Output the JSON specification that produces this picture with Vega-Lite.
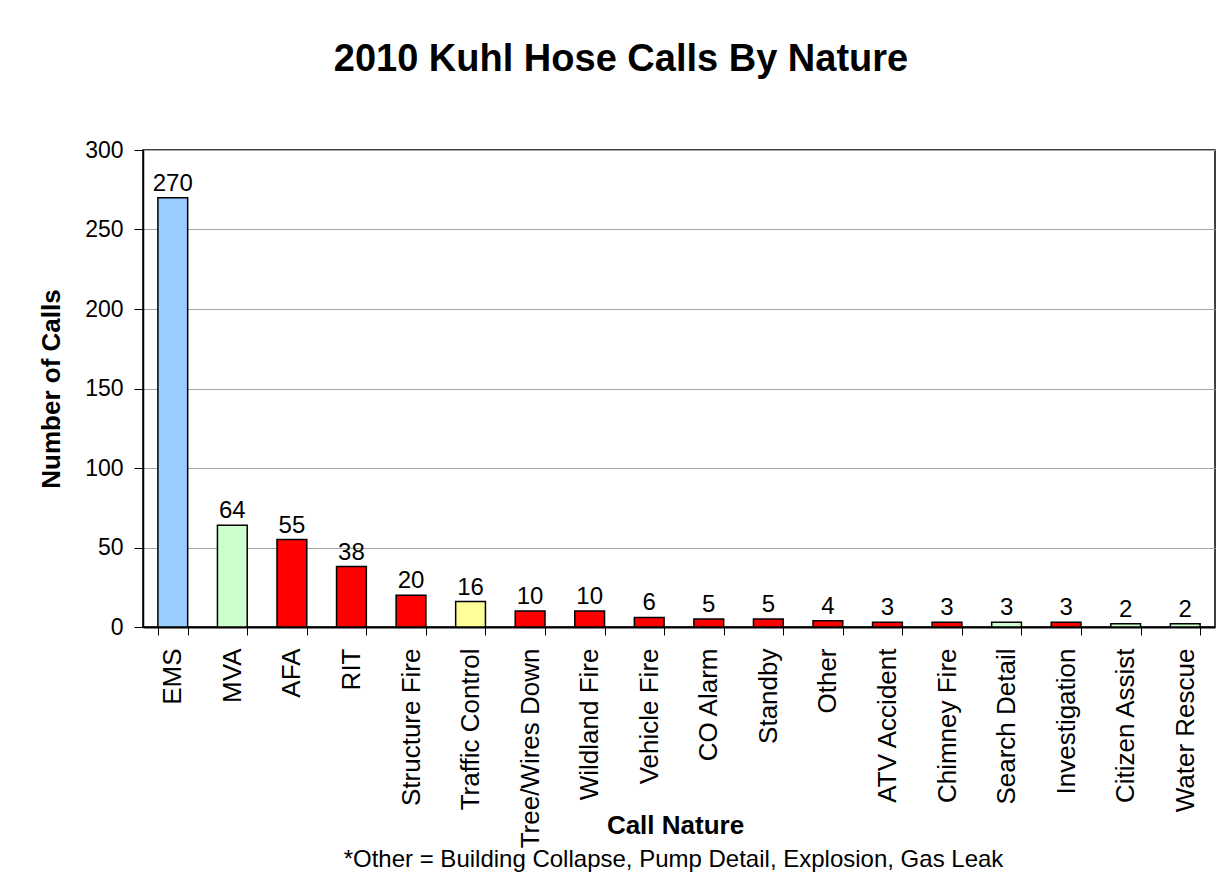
{
  "$schema": "https://vega.github.io/schema/vega-lite/v6.json",
  "width": 1072,
  "height": 477,
  "autosize": {"type": "none"},
  "padding": {"left": 143, "top": 150, "right": 8, "bottom": 261},
  "background": "white",
  "title": {
    "text": "2010 Kuhl Hose Calls By Nature",
    "anchor": "middle",
    "frame": "group",
    "dx": -58,
    "offset": 30,
    "baseline": "alphabetic",
    "font": "Liberation Sans",
    "fontSize": 38,
    "fontWeight": "bold",
    "color": "#000000"
  },
  "config": {
    "view": {"stroke": "#000000", "strokeWidth": 1.5},
    "font": "Liberation Sans"
  },
  "data": {
    "values": [
      {"Nature": "EMS", "Calls": 270, "Type": "EMS"},
      {"Nature": "MVA", "Calls": 64, "Type": "Rescue"},
      {"Nature": "AFA", "Calls": 55, "Type": "Fire"},
      {"Nature": "RIT", "Calls": 38, "Type": "Fire"},
      {"Nature": "Structure Fire", "Calls": 20, "Type": "Fire"},
      {"Nature": "Traffic Control", "Calls": 16, "Type": "Traffic"},
      {"Nature": "Tree/Wires Down", "Calls": 10, "Type": "Fire"},
      {"Nature": "Wildland Fire", "Calls": 10, "Type": "Fire"},
      {"Nature": "Vehicle Fire", "Calls": 6, "Type": "Fire"},
      {"Nature": "CO Alarm", "Calls": 5, "Type": "Fire"},
      {"Nature": "Standby", "Calls": 5, "Type": "Fire"},
      {"Nature": "Other", "Calls": 4, "Type": "Fire"},
      {"Nature": "ATV Accident", "Calls": 3, "Type": "Fire"},
      {"Nature": "Chimney Fire", "Calls": 3, "Type": "Fire"},
      {"Nature": "Search Detail", "Calls": 3, "Type": "Rescue"},
      {"Nature": "Investigation", "Calls": 3, "Type": "Fire"},
      {"Nature": "Citizen Assist", "Calls": 2, "Type": "Rescue"},
      {"Nature": "Water Rescue", "Calls": 2, "Type": "Rescue"}
    ]
  },
  "layer": [
    {
      "layer": [
        {
          "mark": {"type": "bar", "stroke": "#000000", "strokeWidth": 1.5},
          "encoding": {
            "x": {
              "field": "Nature",
              "type": "nominal",
              "sort": null,
              "scale": {"paddingInner": 0.5, "paddingOuter": 0.25},
              "axis": {
                "orient": "bottom",
                "title": "Call Nature",
                "titleFont": "Liberation Sans",
                "titleFontSize": 26,
                "titleFontWeight": "bold",
                "titleColor": "#000000",
                "titleBaseline": "alphabetic",
                "titleX": 532,
                "titleY": 206,
                "labelAngle": -90,
                "labelFont": "Liberation Sans",
                "labelFontSize": 26,
                "labelColor": "#000000",
                "labelPadding": 13,
                "labelOverlap": false,
                "labelLimit": 0,
                "tickBand": "extent",
                "tickSize": 8,
                "tickColor": "#000000",
                "tickWidth": 1,
                "domainColor": "#000000",
                "domainWidth": 2,
                "grid": false
              }
            },
            "y": {
              "field": "Calls",
              "type": "quantitative",
              "scale": {"domain": [0, 300], "nice": false},
              "axis": {
                "title": "Number of Calls",
                "titleFont": "Liberation Sans",
                "titleFontSize": 26,
                "titleFontWeight": "bold",
                "titleColor": "#000000",
                "titlePadding": 20,
                "values": [0, 50, 100, 150, 200, 250, 300],
                "labelFont": "Liberation Sans",
                "labelFontSize": 23,
                "labelColor": "#000000",
                "labelPadding": 11,
                "tickSize": 9,
                "tickColor": "#000000",
                "domainColor": "#000000",
                "domainWidth": 1.5,
                "grid": true,
                "gridColor": "#a6a6a6",
                "gridWidth": 1
              }
            },
            "color": {
              "field": "Type",
              "type": "nominal",
              "scale": {
                "domain": ["EMS", "Rescue", "Fire", "Traffic"],
                "range": ["#99CCFF", "#CCFFCC", "#FF0000", "#FFFF99"]
              },
              "legend": null
            }
          }
        },
        {
          "mark": {
            "type": "text",
            "baseline": "alphabetic",
            "dy": -7,
            "font": "Liberation Sans",
            "fontSize": 24,
            "color": "#000000"
          },
          "encoding": {
            "x": {"field": "Nature", "type": "nominal", "sort": null},
            "y": {"field": "Calls", "type": "quantitative"},
            "text": {"field": "Calls", "type": "quantitative"}
          }
        }
      ]
    },
    {
      "mark": {"type": "point", "opacity": 0},
      "encoding": {
        "x": {
          "field": "Nature",
          "type": "nominal",
          "sort": null,
          "axis": {
            "orient": "bottom",
            "title": "*Other = Building Collapse, Pump Detail, Explosion, Gas Leak",
            "titleFont": "Liberation Sans",
            "titleFontSize": 24,
            "titleFontWeight": "normal",
            "titleColor": "#000000",
            "titleBaseline": "alphabetic",
            "titleAlign": "center",
            "titleX": 530,
            "titleY": 239,
            "labels": false,
            "ticks": false,
            "domain": false,
            "grid": false
          }
        }
      }
    }
  ],
  "resolve": {"scale": {"x": "independent"}, "axis": {"x": "independent"}}
}
